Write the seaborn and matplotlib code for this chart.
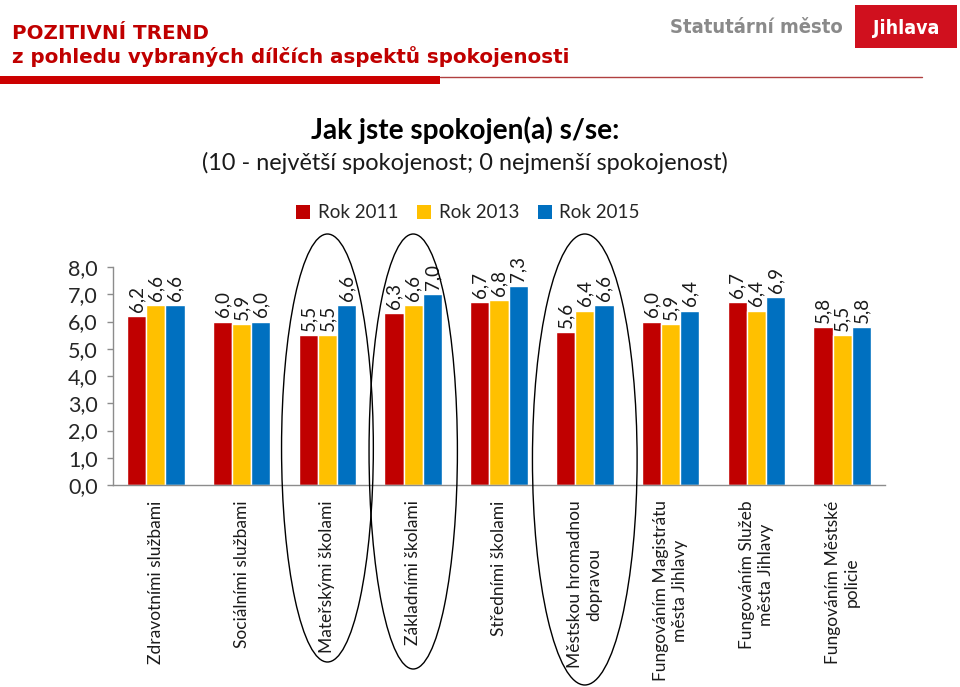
import matplotlib
matplotlib.use("Agg")
import matplotlib.pyplot as plt
from matplotlib.patches import Ellipse, Rectangle, Patch
import seaborn as sns
import pandas as pd

categories = [
    "Zdravotními službami",
    "Sociálními službami",
    "Mateřskými školami",
    "Základními školami",
    "Středními školami",
    "Městskou hromadnou\ndopravou",
    "Fungováním Magistrátu\nměsta Jihlavy",
    "Fungováním Služeb\nměsta Jihlavy",
    "Fungováním Městské\npolicie",
]
years = ["Rok 2011", "Rok 2013", "Rok 2015"]
rok_2011 = [6.2, 6.0, 5.5, 6.3, 6.7, 5.6, 6.0, 6.7, 5.8]
rok_2013 = [6.6, 5.9, 5.5, 6.6, 6.8, 6.4, 5.9, 6.4, 5.5]
rok_2015 = [6.6, 6.0, 6.6, 7.0, 7.3, 6.6, 6.4, 6.9, 5.8]
colors = ["#C00000", "#FFC000", "#0070C0"]
highlighted = [2, 3, 5]

rows = []
for y, vals in zip(years, [rok_2011, rok_2013, rok_2015]):
    for c, v in zip(categories, vals):
        rows.append({"cat": c, "year": y, "val": v})
df = pd.DataFrame(rows)

sns.set_theme(style="white")
plt.rcParams["font.family"] = ["Lato", "DejaVu Sans"]

W, H = 960, 687
fig = plt.figure(figsize=(W / 100, H / 100), dpi=100)
fig.patch.set_facecolor("white")

ax = fig.add_axes([113 / W, 1 - 485 / H, (885 - 113) / W, (485 - 267) / H])
sns.barplot(data=df, x="cat", y="val", hue="year", palette=colors,
            width=0.67, saturation=1, ax=ax, legend=False, errorbar=None)
ax.set_ylim(0, 8)
ax.set_xlim(-0.5, len(categories) - 0.5)
ax.set_yticks(range(0, 9))
ax.set_yticklabels([f"{v:.1f}".replace(".", ",") for v in range(0, 9)],
                   fontsize=15.5, color="#262626")
ax.set_xlabel("")
ax.set_ylabel("")
for s in ["top", "right"]:
    ax.spines[s].set_visible(False)
for s in ["left", "bottom"]:
    ax.spines[s].set_color("#8c8c8c")
    ax.spines[s].set_linewidth(1.0)
ax.tick_params(axis="y", length=4, width=1, color="#8c8c8c", pad=7, left=True)
ax.tick_params(axis="x", length=0, pad=11)
ax.set_xticks(range(len(categories)))
ax.set_xticklabels(categories, rotation=90, ha="center", va="top",
                   multialignment="center", fontsize=12.5, color="#1a1a1a")

for cont in ax.containers:
    vals = [b.get_height() for b in cont]
    ax.bar_label(cont, labels=[f"{v:.1f}".replace(".", ",") for v in vals],
                 rotation=90, padding=3, fontsize=13.5, color="#1a1a1a")

# ellipses around highlighted categories
py_per_unit = (485 - 267) / 8
ell_specs = {2: (1.07, 234, 662), 3: (1.03, 234, 669), 5: (1.22, 234, 685)}
for idx in highlighted:
    w, top, bot = ell_specs[idx]
    cy = (485 - (top + bot) / 2) / py_per_unit
    hgt = (bot - top) / py_per_unit
    e = Ellipse((idx, cy), w, hgt, fill=False, edgecolor="black", lw=1.0,
                clip_on=False, zorder=5)
    ax.add_patch(e)

# legend
handles = [Patch(facecolor=c, edgecolor="none", label=y) for c, y in zip(colors, years)]
ax.legend(handles=handles, loc="center", bbox_to_anchor=(468 / W, 1 - 213 / H),
          bbox_transform=fig.transFigure, ncol=3, frameon=False,
          handlelength=0.75, handleheight=0.75, handletextpad=0.4,
          columnspacing=1.0, fontsize=13.5, labelcolor="#262626")

# chart titles
fig.text(465 / W, 1 - 130 / H, "Jak jste spokojen(a) s/se:", ha="center", va="center",
         fontsize=20.2, fontweight="bold", color="#000000")
fig.text(465 / W, 1 - 163 / H, "(10 - největší spokojenost; 0 nejmenší spokojenost)",
         ha="center", va="center", fontsize=16.9, color="#1a1a1a")

# slide header
hdr_red = "#C00000"
fig.text(12 / W, 1 - 39 / H, "POZITIVNÍ TREND", ha="left", va="baseline",
         fontsize=14.3, fontweight="bold", color=hdr_red, family="DejaVu Sans")
fig.text(12 / W, 1 - 63 / H, "z pohledu vybraných dílčích aspektů spokojenosti",
         ha="left", va="baseline", fontsize=14.3, fontweight="bold", color=hdr_red,
         family="DejaVu Sans")
fig.add_artist(Rectangle((0, 1 - 84 / H), 440 / W, 8 / H, transform=fig.transFigure,
                         facecolor="#CC0000", edgecolor="none"))
fig.add_artist(plt.Line2D([440 / W, 922 / W], [1 - 76.5 / H, 1 - 76.5 / H],
                          transform=fig.transFigure, color="#B04040", lw=1.0))

# logo
fig.text(843 / W, 1 - 33 / H, "Statutární město", ha="right", va="baseline",
         fontsize=14.5, fontweight="bold", fontstretch="condensed", color="#8a8a8a",
         family="DejaVu Sans")
fig.add_artist(Rectangle((855 / W, 1 - 48 / H), 102 / W, 43 / H, transform=fig.transFigure,
                         facecolor="#D0101E", edgecolor="none"))
fig.text(906 / W, 1 - 34 / H, "Jihlava", ha="center", va="baseline",
         fontsize=14, fontweight="bold", fontstretch="condensed", color="white",
         family="DejaVu Sans")

fig.savefig("out.png", dpi=100, facecolor="white")
